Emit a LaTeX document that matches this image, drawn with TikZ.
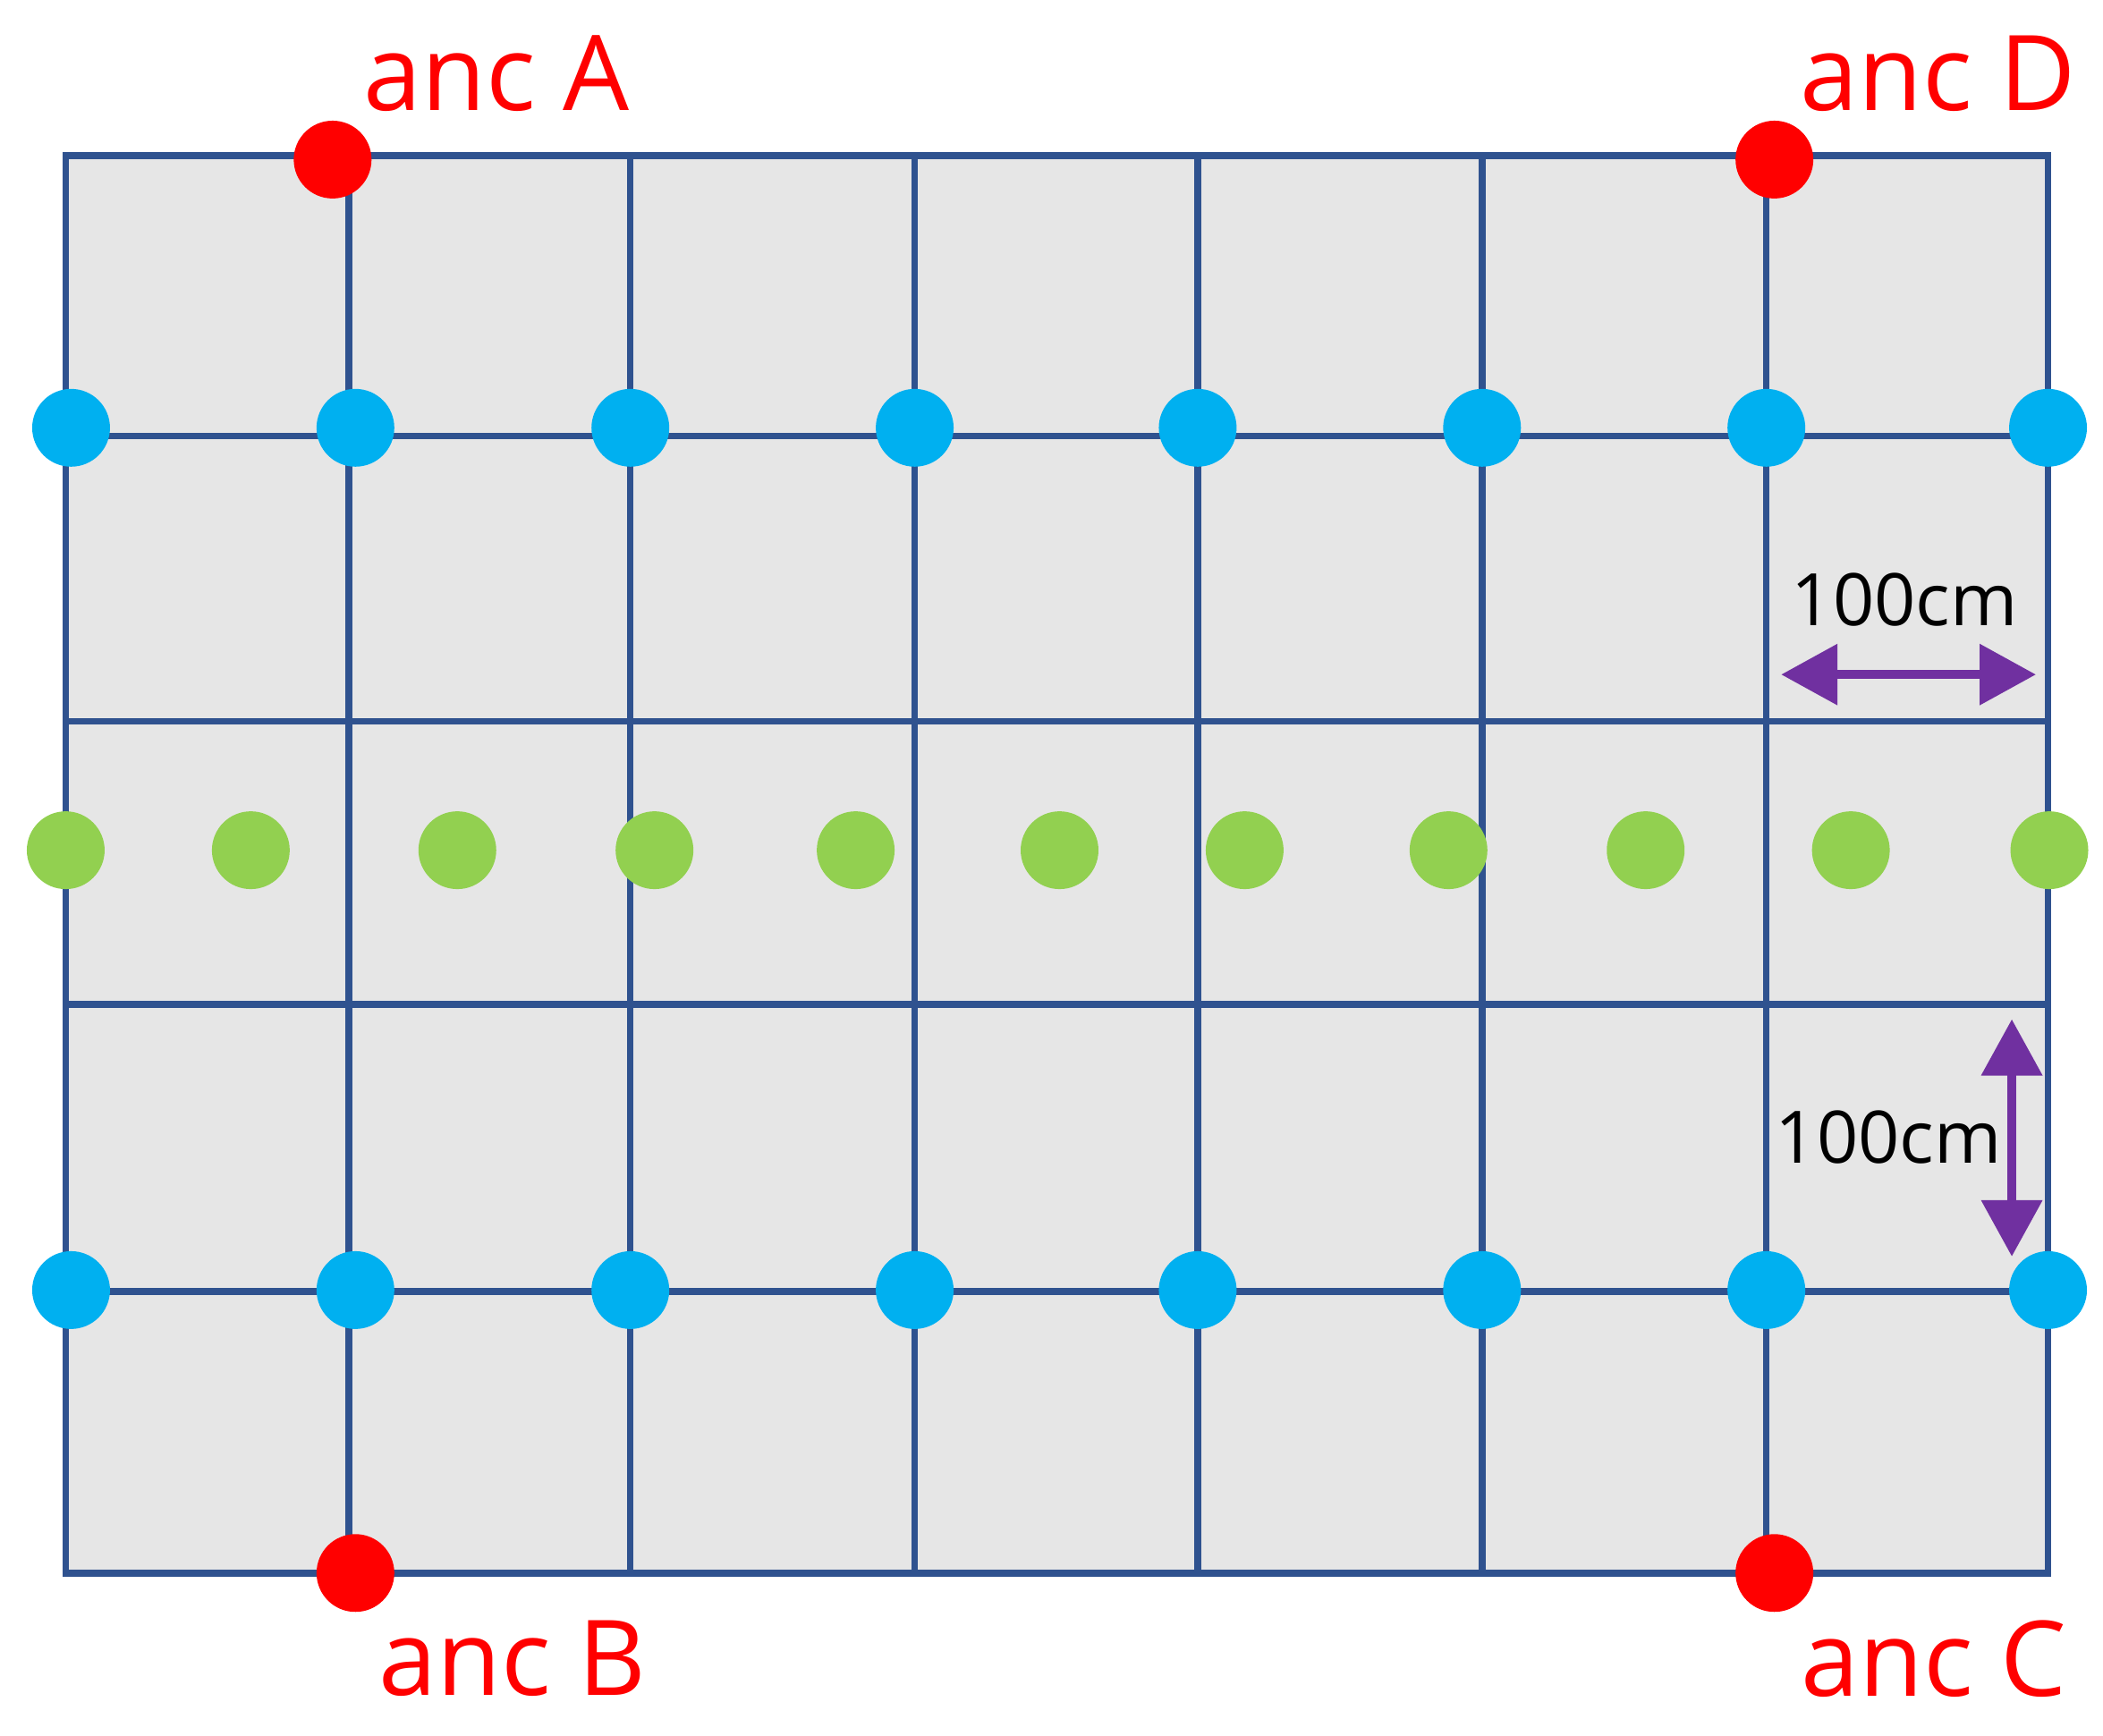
\documentclass[tikz,border=0pt]{standalone}
\usepackage{fontspec}
\setmainfont{Open Sans}
\usetikzlibrary{arrows.meta}
\definecolor{gridc}{HTML}{2F528F}
\definecolor{cellc}{HTML}{E6E6E6}
\definecolor{bluec}{HTML}{00B0F0}
\definecolor{greenc}{HTML}{92D050}
\definecolor{purp}{HTML}{7030A0}
\tikzset{
 gridline/.style={draw=gridc,line width=5pt,line cap=rect},
 bdot/.style={circle,fill=bluec,minimum size=58pt,inner sep=0pt},
 gdot/.style={circle,fill=greenc,minimum size=58pt,inner sep=0pt},
 rdot/.style={circle,fill=red,minimum size=58pt,inner sep=0pt},
 anclabel/.style={text=red,font=\fontsize{78}{86}\selectfont,inner sep=0pt},
 dimlabel/.style={text=black,font=\fontsize{54}{60}\selectfont,inner sep=0pt},
 dimarrow/.style={purp,line width=7pt,{Triangle[length=42pt,width=44pt]}-{Triangle[length=42pt,width=44pt]}}
}
\begin{document}
\begin{tikzpicture}[x=1pt,y=-1pt]
\useasboundingbox (0,0) rectangle (1568,1294);
\fill[cellc] (49,116) rectangle (1527,1173);
\foreach \x in {49,260,470,682,893,1105,1317,1527} \draw[gridline] (\x,116) -- (\x,1173);
\foreach \y in {116,325,538,749,963,1173} \draw[gridline] (49,\y) -- (1527,\y);
\foreach \x [count=\i] in {53,265,470,682,893,1105,1317,1527} {
 \node[bdot] (t\i) at (\x,319) {};
 \node[bdot] (b\i) at (\x,962) {};
}
\foreach \x [count=\i] in {49,187,341,488,638,790,928,1080,1227,1380,1528}
 \node[gdot] (g\i) at (\x,634) {};
\node[rdot] (ra) at (248,119) {};
\node[rdot] (rd) at (1323,119) {};
\node[rdot] (rb) at (265,1173) {};
\node[rdot] (rc) at (1323,1173) {};
\node[anclabel] (la) at (370,55) {anc A};
\node[anclabel] (ld) at (1445,55) {anc D};
\node[anclabel] (lb) at (382,1237) {anc B};
\node[anclabel] (lc) at (1442,1237) {anc C};
\coordinate (h1) at (1328,503); \coordinate (h2) at (1518,503);
\draw[dimarrow] (h1) -- (h2);
\node[dimlabel] (d1) at (1420,447) {100cm};
\coordinate (v1) at (1500,760); \coordinate (v2) at (1500,937);
\draw[dimarrow] (v1) -- (v2);
\node[dimlabel] (d2) at (1408,848) {100cm};
\end{tikzpicture}
\end{document}
